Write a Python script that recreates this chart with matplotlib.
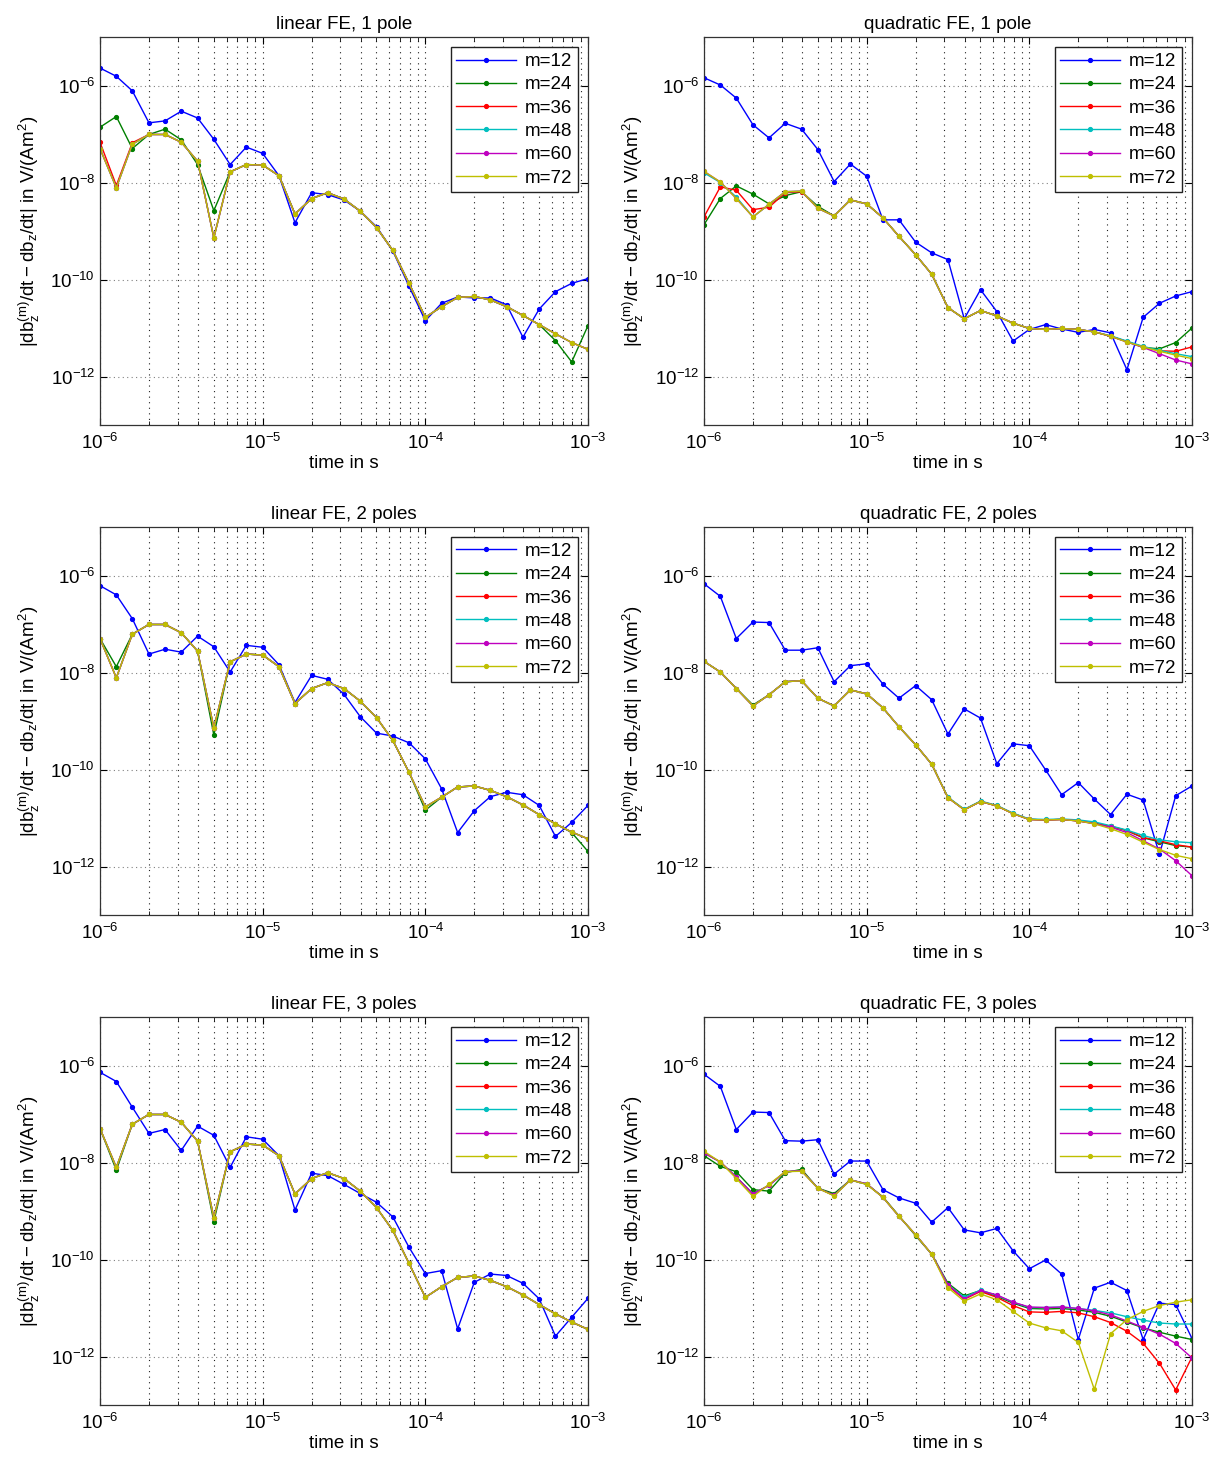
import numpy as np
import matplotlib
matplotlib.use("Agg")
import matplotlib.pyplot as plt
from matplotlib.ticker import LogLocator, NullFormatter, NullLocator, FixedLocator


plt.rcParams["font.family"] = ["Liberation Sans", "DejaVu Sans"]
plt.rcParams["mathtext.default"] = "regular"

# time samples (10 per decade)
time_s = [1.00e-6, 1.26e-6, 1.58e-6, 2.00e-6, 2.51e-6, 3.16e-6, 3.98e-6, 5.01e-6, 6.31e-6, 7.94e-6,
          1.00e-5, 1.26e-5, 1.58e-5, 2.00e-5, 2.51e-5, 3.16e-5, 3.98e-5, 5.01e-5, 6.31e-5, 7.94e-5,
          1.00e-4, 1.26e-4, 1.58e-4, 2.00e-4, 2.51e-4, 3.16e-4, 3.98e-4, 5.01e-4, 6.31e-4, 7.94e-4,
          1.00e-3]

labels = ["m=12", "m=24", "m=36", "m=48", "m=60", "m=72"]
colors = ["#0000ff", "#008000", "#ff0000", "#00bfbf", "#bf00bf", "#bfbf00"]

# all values below are log10 of |db_z^(m)/dt - db_z/dt|

# linear FE, 1 pole
lin1_m12 = [-5.64, -5.81, -6.11, -6.77, -6.73, -6.53, -6.67, -7.11, -7.63, -7.27, -7.40, -7.86, -8.83, -8.21, -8.25, -8.36,
            -8.59, -8.91, -9.41, -10.14, -10.85, -10.49, -10.36, -10.38, -10.38, -10.52, -11.19, -10.61, -10.25, -10.08, -9.98]
lin1_m24 = [-6.86, -6.64, -7.30, -7.01, -6.90, -7.12, -7.63, -8.58, -7.78, -7.63, -7.64, -7.86, -8.65, -8.33, -8.21, -8.34,
            -8.59, -8.93, -9.40, -10.08, -10.78, -10.56, -10.37, -10.35, -10.42, -10.56, -10.74, -10.93, -11.26, -11.70, -10.95]
lin1_m36 = [-7.17, -8.06, -7.18, -7.01, -7.01, -7.17, -7.56, -9.14, -7.78, -7.63, -7.64, -7.86, -8.65, -8.33, -8.21, -8.34,
            -8.59, -8.93, -9.40, -10.08, -10.78, -10.56, -10.37, -10.35, -10.42, -10.56, -10.74, -10.93, -11.12, -11.30, -11.44]
lin1_m72 = [-7.30, -8.11, -7.21, -7.01, -7.01, -7.17, -7.56, -9.14, -7.78, -7.63, -7.64, -7.86, -8.65, -8.33, -8.21, -8.34,
            -8.59, -8.93, -9.40, -10.08, -10.78, -10.56, -10.37, -10.35, -10.42, -10.56, -10.74, -10.93, -11.12, -11.30, -11.44]

# quadratic FE, 1 pole
quad1_m12 = [-5.84, -5.99, -6.26, -6.81, -7.08, -6.78, -6.90, -7.32, -7.98, -7.62, -7.87, -8.77, -8.77, -9.23, -9.45, -9.59,
             -10.81, -10.21, -10.66, -11.27, -11.03, -10.93, -11.02, -11.09, -11.03, -11.10, -11.86, -10.78, -10.49, -10.34, -10.25]
quad1_m24 = [-8.87, -8.33, -8.07, -8.24, -8.44, -8.27, -8.19, -8.49, -8.69, -8.36, -8.44, -8.73, -9.11, -9.49, -9.89, -10.58,
             -10.81, -10.64, -10.75, -10.90, -11.01, -11.03, -11.01, -11.03, -11.08, -11.17, -11.28, -11.40, -11.43, -11.30, -11.00]
quad1_m36 = [-8.71, -8.09, -8.16, -8.56, -8.51, -8.21, -8.19, -8.53, -8.69, -8.36, -8.44, -8.73, -9.11, -9.49, -9.89, -10.58,
             -10.81, -10.64, -10.75, -10.90, -11.01, -11.03, -11.01, -11.03, -11.08, -11.17, -11.28, -11.39, -11.47, -11.48, -11.39]
quad1_m48 = [-7.80, -8.00, -8.30, -8.71, -8.45, -8.19, -8.18, -8.53, -8.69, -8.36, -8.44, -8.73, -9.11, -9.49, -9.89, -10.58,
             -10.81, -10.64, -10.75, -10.90, -11.01, -11.03, -11.01, -11.03, -11.08, -11.16, -11.27, -11.38, -11.46, -11.53, -11.59]
quad1_m60 = [-7.77, -7.99, -8.33, -8.71, -8.45, -8.19, -8.18, -8.53, -8.69, -8.36, -8.44, -8.73, -9.11, -9.49, -9.89, -10.58,
             -10.81, -10.64, -10.75, -10.90, -11.01, -11.03, -11.01, -11.03, -11.08, -11.17, -11.29, -11.40, -11.53, -11.66, -11.74]
quad1_m72 = [-7.77, -7.99, -8.33, -8.71, -8.45, -8.19, -8.18, -8.53, -8.69, -8.36, -8.44, -8.73, -9.11, -9.49, -9.89, -10.58,
             -10.81, -10.64, -10.75, -10.90, -11.01, -11.03, -11.01, -11.03, -11.08, -11.17, -11.29, -11.39, -11.48, -11.56, -11.63]

# linear FE, 2 poles
lin2_m12 = [-6.21, -6.40, -6.89, -7.62, -7.52, -7.58, -7.25, -7.47, -7.99, -7.44, -7.48, -7.84, -8.62, -8.06, -8.14, -8.45,
            -8.91, -9.25, -9.31, -9.45, -9.78, -10.40, -11.30, -10.85, -10.56, -10.47, -10.52, -10.74, -11.38, -11.09, -10.74]
lin2_m24 = [-7.30, -7.88, -7.21, -7.01, -7.01, -7.18, -7.56, -9.29, -7.78, -7.62, -7.64, -7.88, -8.64, -8.33, -8.21, -8.33,
            -8.59, -8.93, -9.40, -10.06, -10.84, -10.57, -10.36, -10.34, -10.43, -10.56, -10.73, -10.93, -11.12, -11.30, -11.69]
lin2_m72 = [-7.30, -8.11, -7.21, -7.01, -7.01, -7.18, -7.56, -9.14, -7.78, -7.62, -7.64, -7.88, -8.64, -8.33, -8.21, -8.33,
            -8.59, -8.93, -9.40, -10.06, -10.77, -10.57, -10.36, -10.34, -10.43, -10.56, -10.73, -10.93, -11.12, -11.29, -11.43]

# quadratic FE, 2 poles
quad2_m12 = [-6.17, -6.43, -7.30, -6.96, -6.97, -7.54, -7.54, -7.49, -8.19, -7.86, -7.82, -8.24, -8.53, -8.27, -8.56, -9.27,
             -8.75, -8.94, -9.88, -9.47, -9.51, -10.01, -10.52, -10.27, -10.61, -10.93, -10.51, -10.63, -11.75, -10.54, -10.34]
quad2_m24 = [-7.77, -7.99, -8.33, -8.67, -8.46, -8.19, -8.17, -8.53, -8.69, -8.36, -8.44, -8.73, -9.12, -9.49, -9.89, -10.58,
             -10.83, -10.66, -10.75, -10.91, -11.03, -11.04, -11.03, -11.06, -11.11, -11.17, -11.26, -11.41, -11.49, -11.57, -11.60]
quad2_m36 = [-7.77, -7.99, -8.33, -8.69, -8.46, -8.19, -8.17, -8.53, -8.69, -8.36, -8.44, -8.73, -9.12, -9.49, -9.89, -10.58,
             -10.83, -10.66, -10.75, -10.91, -11.03, -11.04, -11.03, -11.06, -11.11, -11.17, -11.26, -11.40, -11.47, -11.55, -11.60]
quad2_m48 = [-7.77, -7.99, -8.33, -8.69, -8.46, -8.19, -8.17, -8.53, -8.69, -8.36, -8.44, -8.73, -9.12, -9.49, -9.89, -10.57,
             -10.82, -10.65, -10.74, -10.90, -11.02, -11.03, -11.02, -11.04, -11.08, -11.16, -11.25, -11.36, -11.45, -11.49, -11.51]
quad2_m60 = [-7.77, -7.99, -8.33, -8.69, -8.46, -8.19, -8.17, -8.53, -8.69, -8.36, -8.44, -8.73, -9.12, -9.49, -9.89, -10.58,
             -10.83, -10.66, -10.75, -10.91, -11.03, -11.04, -11.03, -11.06, -11.12, -11.19, -11.30, -11.47, -11.64, -11.88, -12.19]
quad2_m72 = [-7.77, -7.99, -8.33, -8.69, -8.46, -8.19, -8.17, -8.53, -8.69, -8.36, -8.44, -8.73, -9.12, -9.49, -9.89, -10.58,
             -10.83, -10.66, -10.75, -10.91, -11.03, -11.04, -11.03, -11.06, -11.12, -11.22, -11.34, -11.50, -11.65, -11.77, -11.84]

# linear FE, 3 poles
lin3_m12 = [-6.14, -6.33, -6.86, -7.40, -7.32, -7.75, -7.25, -7.44, -8.10, -7.47, -7.52, -7.86, -8.98, -8.22, -8.27, -8.45,
            -8.64, -8.82, -9.12, -9.75, -10.29, -10.23, -11.43, -10.47, -10.30, -10.33, -10.49, -10.81, -11.58, -11.19, -10.80]
lin3_m24 = [-7.30, -8.16, -7.21, -7.01, -7.01, -7.17, -7.56, -9.22, -7.78, -7.62, -7.64, -7.86, -8.65, -8.33, -8.21, -8.33,
            -8.59, -8.93, -9.40, -10.08, -10.78, -10.56, -10.37, -10.34, -10.43, -10.56, -10.73, -10.93, -11.12, -11.29, -11.44]
lin3_m72 = [-7.30, -8.10, -7.21, -7.01, -7.01, -7.17, -7.56, -9.14, -7.78, -7.62, -7.64, -7.86, -8.65, -8.33, -8.21, -8.33,
            -8.59, -8.93, -9.40, -10.08, -10.78, -10.56, -10.37, -10.34, -10.43, -10.56, -10.73, -10.93, -11.12, -11.29, -11.44]

# quadratic FE, 3 poles
quad3_m12 = [-6.18, -6.43, -7.32, -6.96, -6.97, -7.55, -7.56, -7.53, -8.24, -7.97, -7.97, -8.56, -8.73, -8.84, -9.23, -8.93,
             -9.39, -9.45, -9.36, -9.82, -10.19, -10.01, -10.30, -11.65, -10.59, -10.47, -10.64, -11.65, -10.90, -10.93, -11.63]
quad3_m24 = [-7.86, -8.08, -8.19, -8.56, -8.59, -8.21, -8.14, -8.53, -8.64, -8.36, -8.45, -8.71, -9.10, -9.51, -9.89, -10.49,
             -10.75, -10.64, -10.76, -10.90, -11.01, -11.02, -11.01, -11.04, -11.09, -11.17, -11.29, -11.41, -11.50, -11.58, -11.65]
quad3_m36 = [-7.80, -7.99, -8.30, -8.65, -8.47, -8.19, -8.17, -8.53, -8.68, -8.36, -8.44, -8.72, -9.11, -9.49, -9.89, -10.54,
             -10.82, -10.66, -10.78, -10.95, -11.08, -11.09, -11.07, -11.10, -11.18, -11.30, -11.48, -11.73, -12.14, -12.69, -12.01]
quad3_m48 = [-7.80, -7.99, -8.30, -8.65, -8.47, -8.19, -8.17, -8.53, -8.68, -8.36, -8.44, -8.72, -9.11, -9.49, -9.89, -10.52,
             -10.78, -10.63, -10.74, -10.88, -10.99, -10.99, -10.98, -11.01, -11.05, -11.10, -11.18, -11.25, -11.31, -11.33, -11.33]
quad3_m60 = [-7.80, -7.99, -8.30, -8.65, -8.47, -8.19, -8.17, -8.53, -8.68, -8.36, -8.44, -8.72, -9.11, -9.49, -9.89, -10.52,
             -10.81, -10.64, -10.73, -10.88, -10.98, -10.99, -10.98, -11.01, -11.06, -11.14, -11.27, -11.40, -11.54, -11.73, -12.03]
quad3_m72 = [-7.77, -7.99, -8.33, -8.70, -8.45, -8.19, -8.18, -8.53, -8.69, -8.36, -8.45, -8.72, -9.11, -9.49, -9.89, -10.58,
             -10.86, -10.71, -10.83, -11.07, -11.31, -11.41, -11.47, -11.71, -12.68, -11.53, -11.24, -11.07, -10.95, -10.88, -10.83]

y_ticks = [1e-12, 1e-10, 1e-8, 1e-6]

PANELS = [
    ("linear FE, 1 pole", [lin1_m12, lin1_m24, lin1_m36, lin1_m72, lin1_m72, lin1_m72]),
    ("quadratic FE, 1 pole", [quad1_m12, quad1_m24, quad1_m36, quad1_m48, quad1_m60, quad1_m72]),
    ("linear FE, 2 poles", [lin2_m12, lin2_m24, lin2_m72, lin2_m72, lin2_m72, lin2_m72]),
    ("quadratic FE, 2 poles", [quad2_m12, quad2_m24, quad2_m36, quad2_m48, quad2_m60, quad2_m72]),
    ("linear FE, 3 poles", [lin3_m12, lin3_m24, lin3_m72, lin3_m72, lin3_m72, lin3_m72]),
    ("quadratic FE, 3 poles", [quad3_m12, quad3_m24, quad3_m36, quad3_m48, quad3_m60, quad3_m72]),
]

W, H = 1213, 1460
COL_X = [100, 704]
ROW_Y = [37, 527, 1017]
AX_W, AX_H = 488, 388
FS = 13.5


def draw_panel(ax, title, series):
    t = np.array(time_s)
    for vals, lab, col in zip(series, labels, colors):
        ax.plot(t, 10.0 ** np.array(vals), color=col, lw=1.0, marker=".",
                markersize=5.5, label=lab)

    ax.set_xscale("log")
    ax.set_yscale("log")
    ax.set_xlim(1e-6, 1e-3)
    ax.set_ylim(1e-13, 1e-5)
    ax.yaxis.set_major_locator(FixedLocator(y_ticks))
    ax.yaxis.set_minor_locator(NullLocator())
    ax.xaxis.set_major_locator(LogLocator(base=10, numticks=10))
    ax.xaxis.set_minor_locator(LogLocator(base=10, subs=np.arange(2, 10), numticks=20))
    ax.xaxis.set_minor_formatter(NullFormatter())

    ax.grid(True, which="major", axis="y", linestyle=(0, (1, 3)), color="#808080", lw=0.8)
    ax.grid(True, which="both", axis="x", linestyle=(0, (1, 4)), color="#202020", lw=0.8)

    ax.tick_params(which="both", direction="in", top=True, right=True, labelsize=FS)
    ax.tick_params(which="major", length=5)
    ax.tick_params(which="minor", length=3)
    ax.tick_params(axis="x", pad=6)
    for sp in ax.spines.values():
        sp.set_linewidth(0.9)
        sp.set_color("#333333")

    ax.set_title(title, fontsize=FS, pad=6)
    ax.set_xlabel("time in s", fontsize=FS, labelpad=1)
    ax.set_ylabel(r"$|db_z^{(m)}/dt - db_z/dt|$ in V/(Am$^2$)", fontsize=FS, labelpad=6)

    leg = ax.legend(loc="upper right", fontsize=FS, numpoints=1, handlelength=3.2,
                    handletextpad=0.45, labelspacing=0.33, borderaxespad=0.55,
                    borderpad=0.3, fancybox=False, framealpha=1.0)
    leg.get_frame().set_edgecolor("#222222")
    leg.get_frame().set_linewidth(1.0)


def main():
    fig = plt.figure(figsize=(W / 100, H / 100), dpi=100)
    for k, (title, series) in enumerate(PANELS):
        r, c = divmod(k, 2)
        left = COL_X[c] / W
        bottom = 1 - (ROW_Y[r] + AX_H) / H
        ax = fig.add_axes([left, bottom, AX_W / W, AX_H / H])
        draw_panel(ax, title, series)
    fig.savefig("out.png", dpi=100)


if __name__ == "__main__":
    main()
